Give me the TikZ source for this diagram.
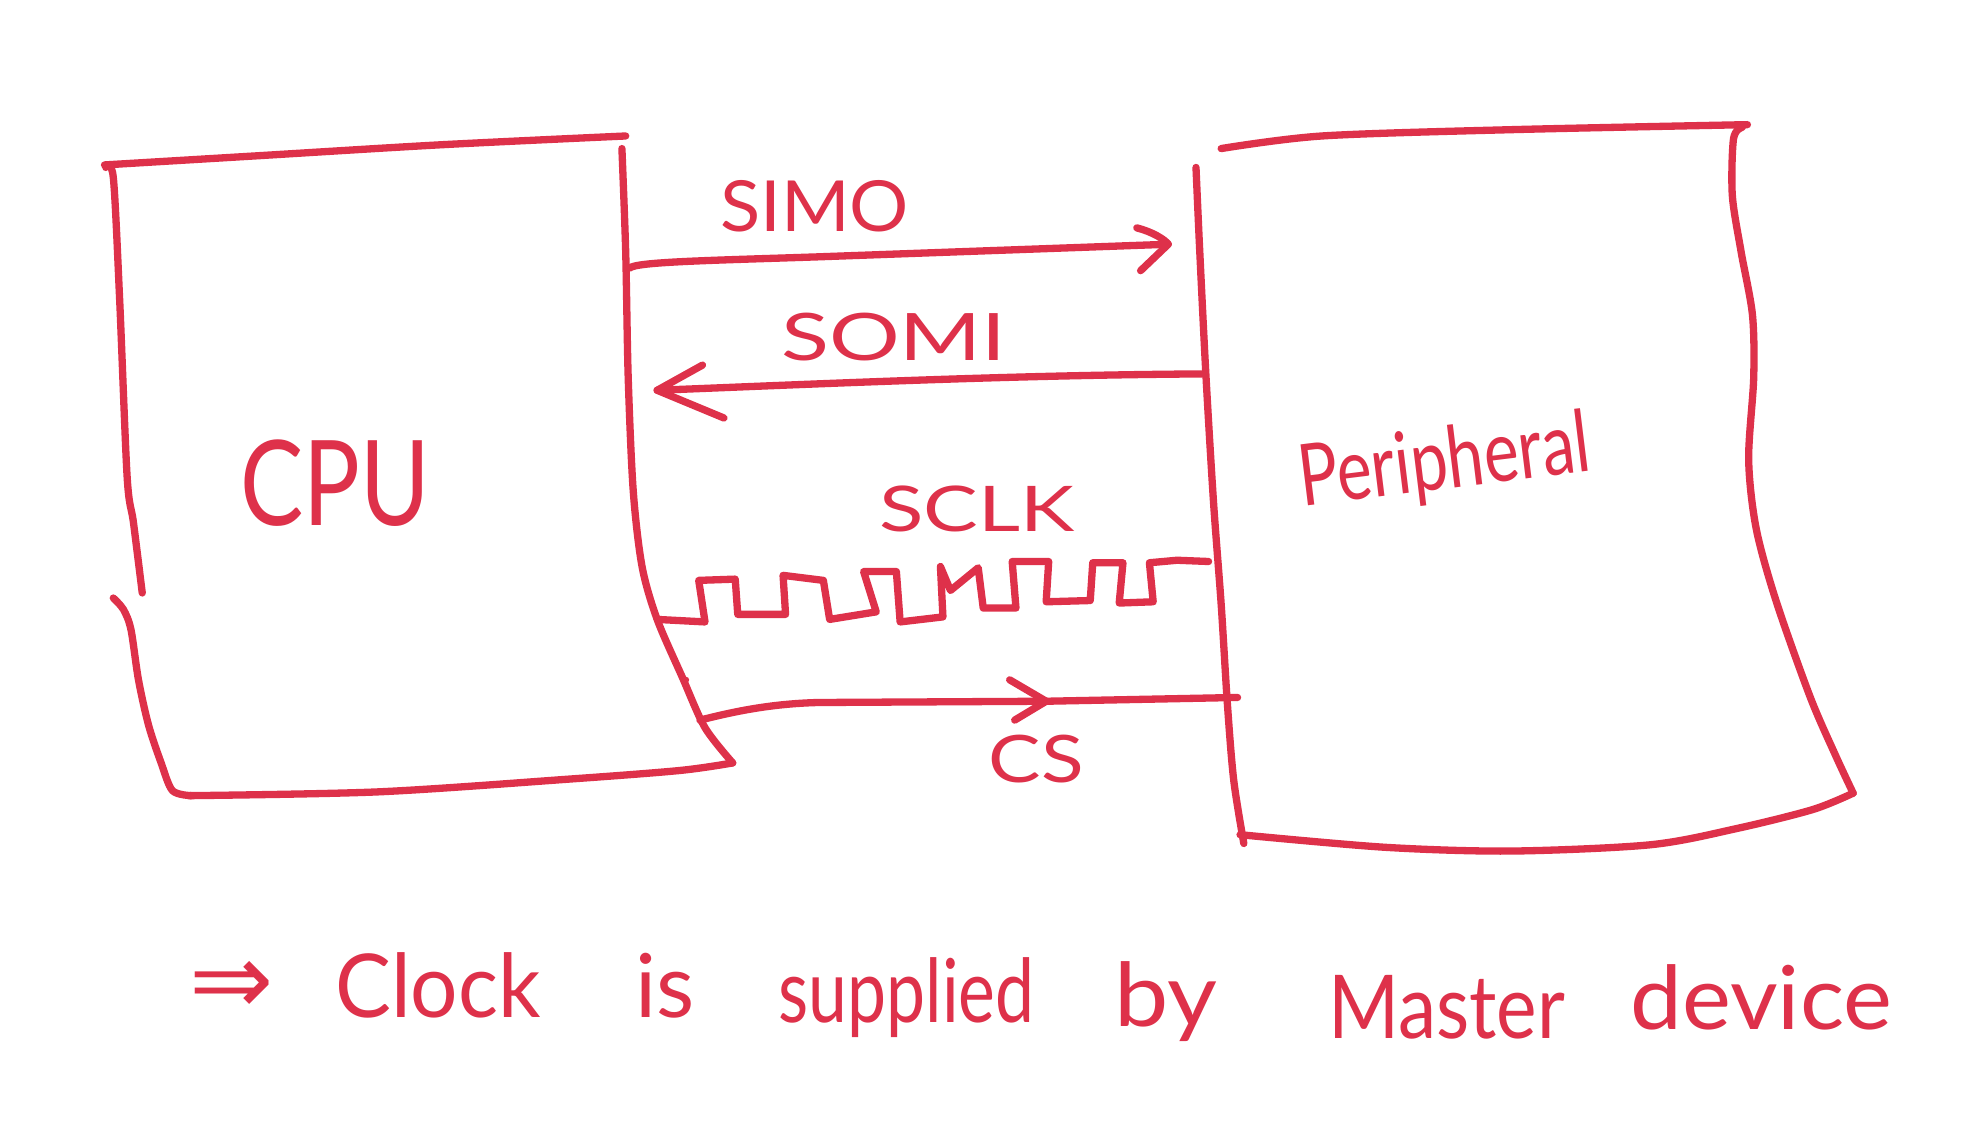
\documentclass[tikz,border=0pt]{standalone}
\usepackage{fontspec}
\usepackage{graphicx}
\setmainfont{Lato}
\newfontfamily\dejavu{DejaVu Sans}
\definecolor{ink}{RGB}{222,49,74}
\newcommand\hwsize[1]{\fontsize{#1}{#1}\selectfont}
\begin{document}
\begin{tikzpicture}[x=0.5pt,y=-0.5pt,
  pen/.style={draw=ink,line width=2.9pt,line cap=round,line join=round},
  lbl/.style={text=ink,inner sep=0pt,outer sep=0pt},
  tip/.style={pen}]
\fill[white] (0,0) rectangle (1568,891);
\useasboundingbox (0,0) rectangle (1568,891);

% ---------------- CPU box ----------------
\draw[pen] plot[smooth,tension=0.5] coordinates {(83,131) (200,124) (350,115) (497,108)};
\draw[pen] plot[smooth,tension=0.5] coordinates {(84,133) (90,141) (95,237) (101,379) (106,415) (113,471)};
\draw[pen] plot[smooth,tension=0.5] coordinates {(90,475) (98,484) (104,500) (110,540) (118,576) (128,606) (137,628) (152,632)};
\draw[pen] plot[smooth,tension=0.5] coordinates {(150,632) (300,629) (450,619) (540,612) (582,606)};
\draw[pen] plot[smooth,tension=0.5] coordinates {(582,606) (560,578) (542,538) (522,492) (510,450) (503,390) (499,300) (497,200) (494,118)};

% ---------------- Peripheral box ----------------
\draw[pen] plot[smooth,tension=0.5] coordinates {(970,118) (1050,108) (1200,103) (1388,99)};
\draw[pen] plot[smooth,tension=0.5] coordinates {(950,133) (953,200) (958,300) (964,400) (970,480) (975,560) (980,620) (988,670)};
\draw[pen] plot[smooth,tension=0.5] coordinates {(1384,101) (1377,110) (1376,155) (1383,200) (1392,250) (1393,300) (1389,365) (1395,420) (1411,478) (1438,554) (1458,600) (1472,630)};
\draw[pen] plot[smooth,tension=0.5] coordinates {(1472,630) (1440,643) (1380,658) (1311,671) (1200,676) (1100,673) (985,663)};

% ---------------- labels ----------------
\node[lbl] (cpu) at (266,384) {\hwsize{47}\scalebox{0.8}[1]{CPU}};
\node[lbl,anchor=base,rotate=7] (per) at (1150,388) {\hwsize{34}\scalebox{0.77}[1]{Peripheral}};
\node[lbl] (simo) at (647,164) {\hwsize{28}\scalebox{1.05}[1]{SIMO}};
\node[lbl] (somi) at (710,268) {\hwsize{26}\scalebox{1.35}[1]{SOMI}};
\node[lbl] (sclk) at (776,404) {\hwsize{25}\scalebox{1.3}[1]{SCLK}};
\node[lbl] (cs) at (823,603) {\hwsize{26}\scalebox{1.2}[1]{CS}};

% ---------------- connectors ----------------
\coordinate (simoS) at (500,213);
\coordinate (simoE) at (928,194);
\coordinate (somiS) at (955,297);
\coordinate (somiE) at (522,310);
\coordinate (csS) at (556,572);
\coordinate (csM) at (831,557);
\coordinate (csE) at (983,554);
\coordinate (clkS) at (522,492);
\coordinate (clkE) at (960,446);

% SIMO
\draw[pen] (simoS) .. controls (505,208) and (560,207) .. (650,204) -- (simoE);
\draw[tip] (903,181) .. controls (915,184) and (925,190) .. (simoE) -- (906,215);
% SOMI
\draw[pen] (somiS) .. controls (800,298) and (650,305) .. (somiE);
\draw[tip] (558,290) -- (somiE) -- (575,332);
% SCLK waveform
\draw[pen] (clkS) -- (560,494) -- (555,461) -- (584,460) -- (586,488) -- (624,488)
  -- (622,457) -- (654,461) -- (659,492) -- (696,486) -- (686,454) -- (712,454)
  -- (715,494) -- (749,490) -- (747,450) -- (755,469) -- (777,451) -- (781,483)
  -- (807,483) -- (804,446) -- (833,446) -- (831,478) -- (866,477) -- (868,447)
  -- (892,447) -- (889,479) -- (916,478) -- (913,447) -- (935,445) -- (clkE);
% CS
\draw[pen] (csS) .. controls (580,566) and (610,559) .. (650,558) -- (csM) -- (csE);
\draw[tip] (802,540) -- (csM) -- (806,572);
\fill[ink] (545,540) circle (2.4);

% ---------------- bottom note ----------------
\node[lbl,anchor=base] (arr) at (184,806) {\hwsize{40}\dejavu ⇒};
\node[lbl,anchor=base] (w1) at (348,808) {\hwsize{35}\scalebox{0.95}[1]{Clock}};
\node[lbl,anchor=base] (w2) at (528,808) {\hwsize{35}is};
\node[lbl,anchor=base] (w3) at (720,812) {\hwsize{35}\scalebox{0.79}[1]{supplied}};
\node[lbl,anchor=base] (w4) at (926,815) {\hwsize{35}\scalebox{1.1}[1]{by}};
\node[lbl,anchor=base] (w5) at (1149,825) {\hwsize{35}\scalebox{0.87}[1]{Master}};
\node[lbl,anchor=base] (w6) at (1399,818) {\hwsize{35}\scalebox{1.05}[1]{device}};
\end{tikzpicture}
\end{document}
